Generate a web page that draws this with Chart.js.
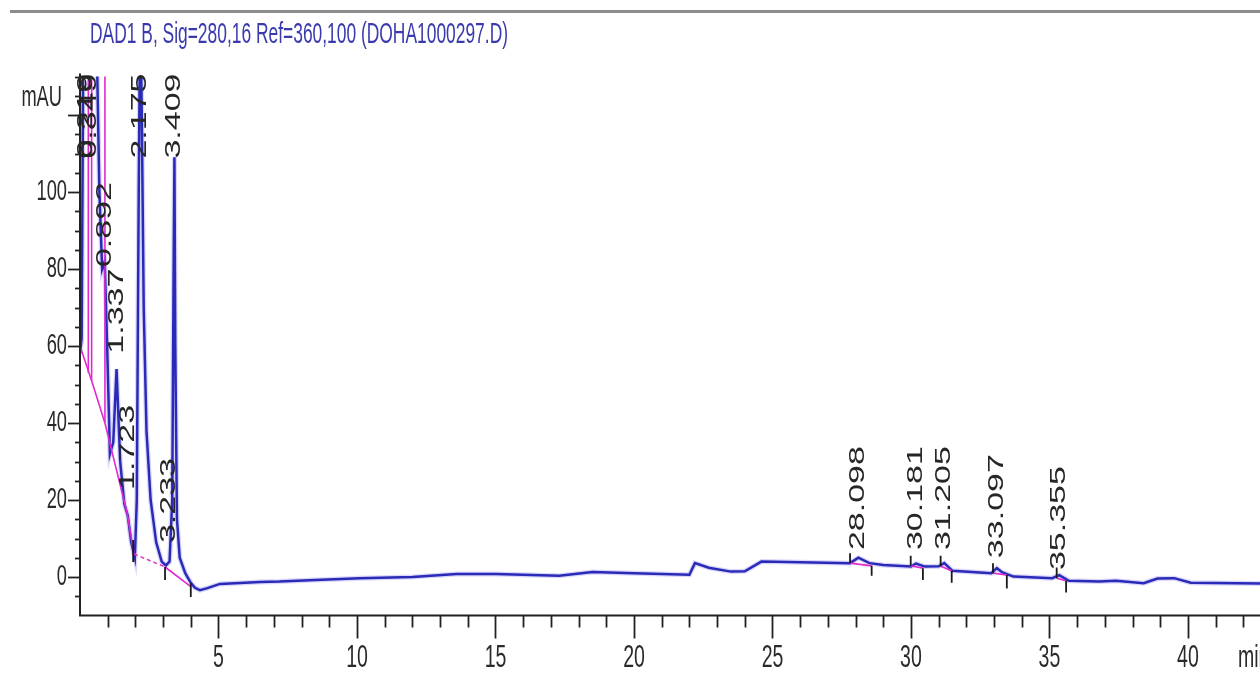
<!DOCTYPE html>
<html>
<head>
<meta charset="utf-8">
<script src="https://cdn.jsdelivr.net/npm/chart.js@4.4.0/dist/chart.umd.min.js"></script>
<style>
  html, body { margin: 0; padding: 0; background: #fff; }
  #wrap { position: relative; width: 1260px; height: 675px; }
</style>
</head>
<body>
<div id="wrap"><canvas id="chart"></canvas></div>
<script>
// chromatogram trace, retention time (min) / signal (mAU)
const traceTime = [0, 0.06, 0.12, 0.3, 0.5, 0.6, 0.7, 0.8, 0.892, 0.98, 1.08, 1.2, 1.32, 1.45, 1.6, 1.723, 1.85, 1.98,
  2.05, 2.12, 2.175, 2.23, 2.3, 2.4, 2.55, 2.75, 2.95, 3.1, 3.233, 3.33, 3.38, 3.409, 3.44, 3.5, 3.6, 3.8, 4.0, 4.15,
  4.33, 4.6, 5.05, 6.5, 7.2, 8.5, 10.1, 12.0, 13.6, 15.0, 17.3, 18.5, 20.0, 22.0, 22.2, 22.7, 23.5, 24.0, 24.6, 26.0,
  27.8, 28.1, 28.5, 29.0, 30.0, 30.18, 30.5, 31.0, 31.2, 31.5, 32.9, 33.1, 33.3, 33.7, 35.1, 35.35, 35.7, 36.8, 37.4,
  38.4, 38.9, 39.5, 40.1, 42.6];
const traceMau = [58, 62, 140, 145, 145, 140, 100, 80, 82, 60, 32, 35, 54, 30, 19, 16, 9, 5,
  20, 100, 150, 120, 70, 38, 20, 9, 4, 3, 4, 20, 80, 109, 60, 15, 5, 1, -1.5, -2.8,
  -3.4, -2.9, -1.8, -1.3, -1.2, -0.8, -0.3, 0, 0.8, 0.8, 0.3, 1.3, 1.0, 0.6, 3.6, 2.4, 1.4, 1.5, 4.0, 3.8,
  3.6, 5.0, 3.6, 3.1, 2.7, 3.5, 2.7, 2.8, 3.6, 1.6, 1.0, 2.3, 1.2, 0.1, -0.3, 0.5, -1.0, -1.2, -1.0,
  -1.6, -0.4, -0.3, -1.5, -1.7];

// integration baselines (magenta), one segment per entry
const baseStartT = [0, 0.42, 0.9, 1.7, 3.07, 27.8, 29.99, 31.07, 32.96, 35.26];
const baseStartV = [60, 51, 40, 16.6, 2.6, 3.6, 2.9, 2.8, 1.0, -0.3];
const baseEndT = [0.42, 0.9, 1.7, 1.95, 4.0, 28.58, 30.43, 31.47, 33.46, 35.6];
const baseEndV = [51, 40, 16.6, 6, -2.5, 2.9, 2.3, 1.6, 0.5, -1.0];
// dashed baseline
const dashT = [1.95, 3.07];
const dashV = [6, 2.6];
// perpendicular drops
const dropT = [0.30, 0.42, 0.9];
const dropTop = [140, 140, 140];
const dropBottom = [53, 51, 40];

// peak start / end event marks
const markT = [1.92, 3.07, 4.0, 27.8, 28.58, 29.99, 30.43, 31.07, 31.47, 32.96, 33.46, 35.26, 35.6];
const markFrom = [9.6, 2.6, -1.6, 3.6, 2.9, 2.9, 2.3, 2.8, 1.6, 1.0, 0.5, -0.3, -1.0];
const markTo = [3.9, -0.8, -5.2, 6.2, 0.3, 5.5, -0.8, 5.5, -1.5, 3.6, -3.0, 2.5, -4.0];

// retention time labels
const peakLabels = ['0.219', '0.349', '0.892', '1.337', '1.723', '2.175', '3.233', '3.409',
  '28.098', '30.181', '31.205', '33.097', '35.355'];
const peakTime = [0.219, 0.349, 0.892, 1.337, 1.723, 2.175, 3.233, 3.409, 28.098, 30.181, 31.205, 33.097, 35.355];
const peakLabelBase = [null, null, 80.5, 58, 22.6, null, 8.8, null, 7, 7, 7, 4.9, 1.8]; // null = off scale

const xTickLabels = [5, 10, 15, 20, 25, 30, 35, 40];
const yTickLabels = [0, 20, 40, 60, 80, 100];
const titleText = 'DAD1 B, Sig=280,16 Ref=360,100 (DOHA1000297.D)';

const FONT = '"Liberation Sans", Arial, sans-serif';
const SQ = 0.63; // glyphs are horizontally condensed in the original

function segData(ts, vs, te, ve) {
  const out = [];
  ts.forEach((t, i) => {
    out.push({ x: t, y: vs[i] }, { x: te[i], y: ve[i] }, { x: te[i], y: null });
  });
  return out;
}

const traceData = traceTime.map((t, i) => ({ x: t, y: traceMau[i] }));
const baseData = segData(baseStartT, baseStartV, baseEndT, baseEndV);
const dropData = segData(dropT, dropTop, dropT, dropBottom);
const markData = segData(markT, markFrom, markT, markTo);
const dashData = dashT.map((t, i) => ({ x: t, y: dashV[i] }));

function squeezedText(ctx, txt, x, y, size, align, rotate) {
  ctx.save();
  ctx.translate(x, y);
  ctx.scale(SQ, 1);
  if (rotate) ctx.rotate(-Math.PI / 2);
  ctx.font = size + 'px ' + FONT;
  ctx.textAlign = align;
  ctx.textBaseline = 'middle';
  ctx.fillText(txt, 0, 0);
  ctx.restore();
}

const chromPlugin = {
  id: 'chrom',
  beforeDraw(chart) {
    const ctx = chart.ctx;
    ctx.save();
    ctx.fillStyle = '#fff';
    ctx.fillRect(0, 0, chart.width, chart.height);
    ctx.fillStyle = '#8c8c8c';
    ctx.fillRect(10, 10, chart.width - 10, 3);
    // title
    ctx.font = '30px ' + FONT;
    const w = ctx.measureText(titleText).width;
    ctx.translate(90, 43);
    ctx.scale(418 / w, 1);
    ctx.fillStyle = '#3a3aae';
    ctx.textBaseline = 'alphabetic';
    ctx.fillText(titleText, 0, 0);
    ctx.restore();
  },
  afterDraw(chart) {
    const { ctx, chartArea: a, scales: { x, y } } = chart;
    ctx.save();
    ctx.strokeStyle = '#222';
    ctx.fillStyle = '#2a2a2a';
    ctx.lineWidth = 2;
    ctx.beginPath();
    ctx.moveTo(a.left, a.top - 3);
    ctx.lineTo(a.left, a.bottom);
    ctx.lineTo(a.right, a.bottom);
    ctx.stroke();

    // y ticks, minor every 5 mAU
    ctx.lineWidth = 1.8;
    for (let v = y.min + 5; v <= y.max; v += 5) {
      const py = Math.round(y.getPixelForValue(v)) + 0.5;
      const len = v % 20 === 0 ? 12 : 5;
      ctx.beginPath();
      ctx.moveTo(a.left - len, py);
      ctx.lineTo(a.left, py);
      ctx.stroke();
    }
    yTickLabels.forEach(v => squeezedText(ctx, String(v), a.left - 13, y.getPixelForValue(v), 29, 'right', false));
    squeezedText(ctx, 'mAU', a.left - 18, y.getPixelForValue(124.5), 29, 'right', false);

    // x ticks, minor every 1 min
    for (let t = 1; t <= x.max; t += 1) {
      const px = Math.round(x.getPixelForValue(t)) + 0.5;
      const len = t % 5 === 0 ? 23 : 12;
      ctx.beginPath();
      ctx.moveTo(px, a.bottom);
      ctx.lineTo(px, a.bottom + len);
      ctx.stroke();
    }
    xTickLabels.forEach(t => squeezedText(ctx, String(t), x.getPixelForValue(t), 658, 31, 'center', false));
    squeezedText(ctx, 'min', 1238, 658, 31, 'left', false);

    // peak retention time labels
    ctx.fillStyle = '#262626';
    peakLabels.forEach((lab, i) => {
      const px = x.getPixelForValue(peakTime[i]);
      if (peakLabelBase[i] === null) {
        squeezedText(ctx, lab, px, a.top - 3, 34, 'right', true);
      } else {
        squeezedText(ctx, lab, px, y.getPixelForValue(peakLabelBase[i]), 34, 'left', true);
      }
    });
    ctx.restore();
  }
};

new Chart(document.getElementById('chart'), {
  type: 'line',
  data: {
    datasets: [
      { data: markData, borderColor: '#1a1a1a', borderWidth: 1.8, pointRadius: 0, spanGaps: false },
      { data: dashData, borderColor: '#d83cc8', borderWidth: 1.6, borderDash: [4, 3], pointRadius: 0 },
      { data: baseData, borderColor: '#e02ad0', borderWidth: 1.6, pointRadius: 0, spanGaps: false },
      { data: dropData, borderColor: '#e02ad0', borderWidth: 1.6, pointRadius: 0, spanGaps: false },
      { data: traceData, borderColor: '#2a2ab8', borderWidth: 2.5, pointRadius: 0, tension: 0 },
      { data: traceData, borderColor: 'rgba(130,120,235,0.3)', borderWidth: 5, pointRadius: 0, tension: 0 }
    ]
  },
  options: {
    responsive: true,
    maintainAspectRatio: false,
    animation: false,
    events: [],
    layout: { padding: { left: 80, top: 76.5, right: 0, bottom: 59.5 } },
    plugins: { legend: { display: false }, tooltip: { enabled: false } },
    scales: {
      x: { type: 'linear', min: 0, max: 42.6, display: false },
      y: { type: 'linear', min: -10, max: 130, display: false }
    }
  },
  plugins: [chromPlugin]
});
</script>
</body>
</html>
